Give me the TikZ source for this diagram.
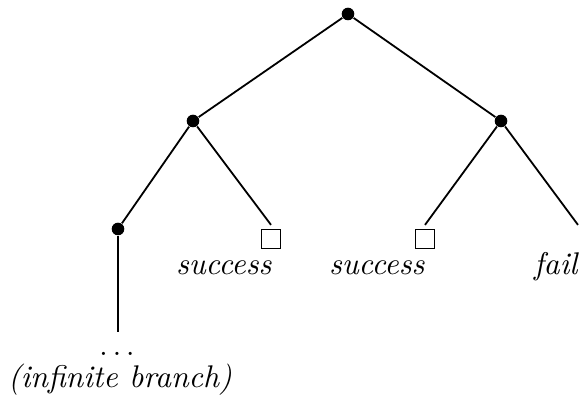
\documentclass[tikz,border=0pt]{standalone}
\begin{document}
\begin{tikzpicture}[x=0.3333pt,y=-0.3333pt,
  edge/.style={line width=0.6pt},
  inner/.style={circle,fill=black,inner sep=0pt,minimum size=4.2pt},
  leafbox/.style={draw,line width=0.5pt,rectangle,inner sep=0pt,minimum size=6.2pt,outer sep=1.6pt},
  leafblank/.style={rectangle,inner sep=0pt,minimum size=6.2pt,outer sep=1.6pt},
  lbl/.style={inner sep=0pt,font=\fontsize{10.45}{12.5}\selectfont\itshape},
  outcome/.style={lbl,anchor=base east}]
  \useasboundingbox (0,0) rectangle (579,401);
  % inner nodes of the tree
  \node[inner] (r) at (348,14) {};
  \node[inner] (a) at (193,121) {};
  \node[inner] (b) at (501,121) {};
  \node[inner] (aa) at (118,229) {};
  % leaves
  \node[leafbox] (ab) at (271,239) {};
  \node[leafbox] (ba) at (425,239) {};
  \node[leafblank] (bb) at (578,239) {};
  \coordinate (inf) at (118,332);
  % edges
  \draw[edge] (r) -- (a);
  \draw[edge] (r) -- (b);
  \draw[edge] (a) -- (aa);
  \draw[edge] (a) -- (ab.north);
  \draw[edge] (b) -- (ba.north);
  \draw[edge] (b) -- (bb.north);
  \draw[edge] (aa) -- (inf);
  % labels
  \node[outcome] (sa) at (272,275) {success};
  \node[outcome] (sb) at (425,275) {success};
  \node[outcome] (fl) at (578,275) {fail};
  \node[lbl,anchor=base] (dots) at (117,356) {$\ldots$};
  \node[lbl,anchor=base] (ib) at (120,388) {(infinite branch)};
\end{tikzpicture}
\end{document}
